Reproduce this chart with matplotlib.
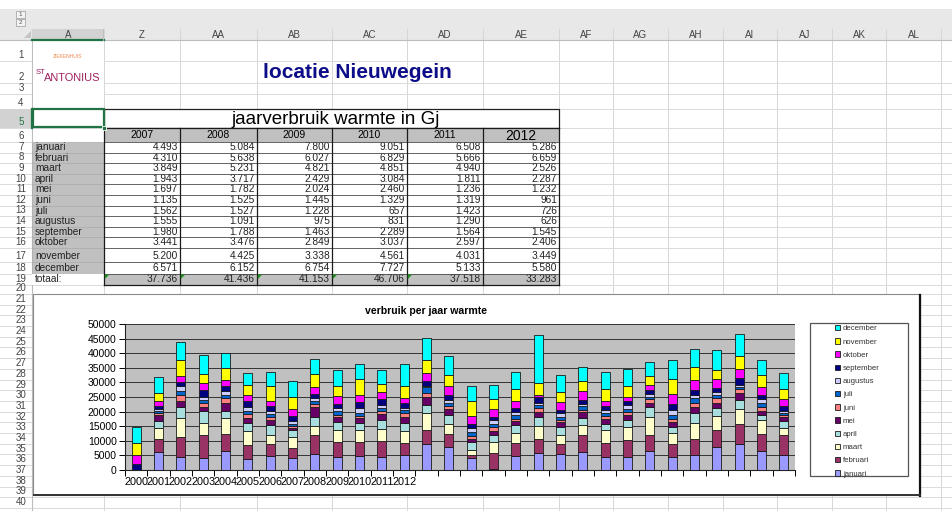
import numpy as np
import matplotlib.pyplot as plt
from matplotlib.patches import Rectangle, Polygon

plt.rcParams['font.family'] = ['Liberation Sans', 'DejaVu Sans']

months = ['januari', 'februari', 'maart', 'april', 'mei', 'juni', 'juli',
          'augustus', 'september', 'oktober', 'november', 'december']
table_years = ['2007', '2008', '2009', '2010', '2011', '2012']
gj_2007 = [4493, 4310, 3849, 1943, 1697, 1135, 1562, 1555, 1980, 3441, 5200, 6571]
gj_2008 = [5084, 5638, 5231, 3717, 1782, 1525, 1527, 1091, 1788, 3476, 4425, 6152]
gj_2009 = [7800, 6027, 4821, 2429, 2024, 1445, 1228, 975, 1463, 2849, 3338, 6754]
gj_2010 = [9051, 6829, 4851, 3084, 2460, 1329, 657, 831, 2289, 3037, 4561, 7727]
gj_2011 = [6508, 5666, 4940, 1811, 1236, 1319, 1423, 1290, 1564, 2597, 4031, 5133]
gj_2012 = [5286, 6659, 2526, 2287, 1232, 961, 726, 626, 1545, 2406, 3449, 5580]

# earlier bars of the chart (24 columns before 2007), per month
jan_early = [0, 6050, 4300, 4100, 6400, 3900, 4900, 4100, 5500, 4600, 4900, 4600,
             5300, 8900, 7800, 4100, 500, 4900, 5800, 5500, 6100, 4300, 4300, 6400]
feb_early = [0, 4450, 6900, 7900, 5900, 4800, 4000, 3400, 6600, 5000, 4700, 5400,
             3800, 4800, 4600, 900, 5300, 4300, 4800, 3400, 5800, 4800, 5900, 5700]
mrt_early = [0, 3900, 6600, 4000, 5500, 4800, 3200, 3800, 2900, 4100, 4100, 3900,
             4400, 5900, 3400, 2000, 3800, 3400, 4400, 3200, 3400, 4500, 4600, 5900]
apr_early = [0, 2500, 3700, 4100, 2300, 2600, 3400, 2300, 3300, 2600, 2500, 3200,
             2700, 2800, 3100, 2600, 2500, 2700, 3000, 2700, 2500, 2200, 2200, 3500]
mei_early = [0, 1800, 2300, 1400, 2700, 1700, 1600, 800, 3200, 1700, 1600, 2100,
             1800, 2700, 2100, 1100, 1400, 1400, 1900, 1600, 2100, 1700, 1900, 1600]
jun_early = [0, 800, 1800, 1300, 1900, 1400, 1200, 600, 1100, 900, 800, 900,
             1600, 1300, 800, 800, 1300, 900, 1300, 800, 800, 1000, 1000, 1100]
jul_early = [0, 600, 1600, 1300, 900, 900, 900, 800, 900, 1200, 800, 1100,
             900, 1900, 1100, 1500, 1000, 1300, 900, 1100, 1100, 1000, 1100, 900]
aug_early = [0, 800, 1500, 1000, 1300, 1400, 900, 900, 1200, 1100, 1800, 900,
             700, 600, 1200, 1400, 1400, 1000, 800, 1200, 800, 1200, 1100, 900]
sep_early = [2050, 900, 1400, 2400, 1800, 2000, 1700, 1700, 1300, 1400, 2000, 2100,
             1700, 1700, 1500, 1400, 1000, 1300, 2000, 1200, 1500, 1100, 1400, 1500]
okt_early = [3200, 1700, 2000, 2200, 2200, 2300, 1900, 2400, 2500, 2600, 2600, 2500,
             1800, 2600, 3100, 2800, 2600, 2300, 700, 2600, 3100, 1900, 1600, 1700]
nov_early = [3850, 3000, 5600, 3200, 4000, 3400, 5200, 4100, 4500, 3700, 5500, 2800,
             4100, 4600, 3900, 4900, 3500, 4400, 4100, 3400, 3200, 3900, 3800, 2900]
dec_early = [5500, 5300, 6000, 6400, 5100, 4000, 4700, 5600, 5100, 5200, 5000, 4600,
             7600, 7400, 6300, 5400, 4900, 5500, 16400, 5900, 4900, 6000, 5700, 4900]

x_labels = ['2000', '2001', '2002', '2003', '2004', '2005', '2006', '2007',
            '2008', '2009', '2010', '2011', '2012']

month_colors = ['#9999FF', '#993366', '#FFFFCC', '#A8DEDE', '#660066', '#FF8080',
                '#0066CC', '#CCCCFF', '#000080', '#FF00FF', '#FFFF00', '#00FFFF']

col_letters = ['A', 'Z', 'AA', 'AB', 'AC', 'AD', 'AE', 'AF', 'AG', 'AH', 'AI', 'AJ', 'AK', 'AL']
col_edges = [32, 104, 180, 257, 332, 407, 483, 559, 613, 668, 723, 777, 832, 886, 941, 995]
row_edges = ([40, 61, 83, 94, 109, 128, 142] + list(142 + 10.6 * np.arange(1, 11))
             + [262, 274, 285, 294] + list(294 + 10.7 * np.arange(1, 21)))

year_cols = [gj_2007, gj_2008, gj_2009, gj_2010, gj_2011, gj_2012]
early = [jan_early, feb_early, mrt_early, apr_early, mei_early, jun_early,
         jul_early, aug_early, sep_early, okt_early, nov_early, dec_early]


def fmt(v):
    return f'{v:,}'.replace(',', '.')


fig = plt.figure(figsize=(9.52, 5.11), dpi=100)
bg = fig.add_axes([0, 0, 1, 1])
bg.set_xlim(0, 952)
bg.set_ylim(511, 0)
bg.axis('off')

# --- spreadsheet frame ---
bg.add_patch(Rectangle((0, 9), 952, 31, fc='#E8E8E8', ec='none'))
bg.plot([0, 952], [40, 40], color='#BDBDBD', lw=0.8)
bg.plot([32, 32], [29, 511], color='#BDBDBD', lw=0.8)
for yb, t in [(11, '1'), (19, '2')]:
    bg.add_patch(Rectangle((16, yb), 9, 7, fc='#F4F4F4', ec='#9A9A9A', lw=0.5))
    bg.text(20.5, yb + 3.7, t, fontsize=4.5, ha='center', va='center', color='#555555')
bg.add_patch(Polygon([[31, 31], [31, 38], [24, 38]], closed=True, fc='#C4C4C4', ec='none'))

# gridlines
for x in col_edges:
    bg.plot([x, x], [29, 511], color='#D6D6D6', lw=0.7, zorder=1)
for y in row_edges:
    bg.plot([0, 952], [y, y], color='#DADADA', lw=0.7, zorder=1)

# column header
bg.add_patch(Rectangle((32, 29), 72, 11, fc='#D2D2D2', ec='none', zorder=2))
bg.plot([32, 104], [40, 40], color='#217346', lw=1.6, zorder=3)
bg.plot([103, 103], [29, 40], color='#BDBDBD', lw=0.6, zorder=3)
for i, letter in enumerate(col_letters):
    xc = (col_edges[i] + col_edges[i + 1]) / 2
    bg.text(xc, 35, letter, fontsize=7, ha='center', va='center', color='#444444', zorder=3)

# row header
bg.add_patch(Rectangle((0, row_edges[4]), 32, row_edges[5] - row_edges[4], fc='#D2D2D2', ec='none', zorder=2))
bg.plot([32, 32], [row_edges[4], row_edges[5]], color='#217346', lw=1.6, zorder=3)
for r in range(1, 41):
    bg.text(21, row_edges[r] - 0.8, str(r), fontsize=7, ha='center', va='bottom',
            color='#217346' if r == 5 else '#444444', zorder=3)

# logo cell
bg.add_patch(Rectangle((33, 40.5), 70.5, 68, fc='white', ec='none', zorder=2))
bg.text(68, 57, 'ZIEKENHUIS', fontsize=3.6, ha='center', va='center', color='#EE8A50', zorder=3)
bg.text(36, 72, 'ST', fontsize=5.5, ha='left', va='center', color='#A01E5E', zorder=3)
bg.text(44, 78, 'ANTONIUS', fontsize=7.9, ha='left', va='center', color='#A01E5E', zorder=3)

bg.text(357, 73, 'locatie Nieuwegein', fontsize=15, fontweight='bold', ha='center',
        va='center', color='#0D0D8A', zorder=3)

# --- table ---
x_left, x_right = col_edges[1], col_edges[7]
y5a, y5b = row_edges[4], row_edges[5]
bg.add_patch(Rectangle((x_left, y5a), x_right - x_left, y5b - y5a, fc='white', ec='#222222', lw=0.9, zorder=3))
bg.text(336, (y5a + y5b) / 2 + 1, 'jaarverbruik warmte in Gj', fontsize=13.5,
        ha='center', va='center', color='black', zorder=4)

y6a, y6b = row_edges[5], row_edges[6]
bg.add_patch(Rectangle((x_left, y6a), x_right - x_left, y6b - y6a, fc='#C0C0C0', ec='none', zorder=3))
for j, yr in enumerate(table_years):
    xc = (col_edges[j + 1] + col_edges[j + 2]) / 2
    bg.text(xc, (y6a + y6b) / 2 + 0.5, yr, fontsize=10 if yr == '2012' else 7.5,
            ha='center', va='center', color='black', zorder=4)

for i, m in enumerate(months):
    ya, yb = row_edges[6 + i], row_edges[7 + i]
    bg.add_patch(Rectangle((32, ya), 72, yb - ya, fc='#C0C0C0', ec='#A8A8A8', lw=0.4, zorder=3))
    bg.add_patch(Rectangle((x_left, ya), x_right - x_left, yb - ya, fc='white', ec='none', zorder=3))
    bg.text(35, yb - 0.6, m, fontsize=7.3, ha='left', va='bottom', color='#222222', zorder=4)
    for j, vals in enumerate(year_cols):
        bg.text(col_edges[j + 2] - 2, yb - 0.6, fmt(vals[i]), fontsize=7.3, ha='right',
                va='bottom', color='#222222', zorder=4)

ya, yb = row_edges[18], row_edges[19]
bg.add_patch(Rectangle((32, ya), 72, yb - ya, fc='white', ec='none', zorder=3))
bg.add_patch(Rectangle((x_left, ya), x_right - x_left, yb - ya, fc='#C0C0C0', ec='none', zorder=3))
bg.text(35, yb - 0.6, 'totaal:', fontsize=7.3, ha='left', va='bottom', color='#222222', zorder=4)
for j, vals in enumerate(year_cols):
    bg.text(col_edges[j + 2] - 2, yb - 0.6, fmt(sum(vals)), fontsize=7.3, ha='right',
            va='bottom', color='#222222', zorder=4)
    if j < 5:
        x0 = col_edges[j + 1] + 0.8
        bg.add_patch(Polygon([[x0, ya + 0.5], [x0 + 4.5, ya + 0.5], [x0, ya + 5]], closed=True,
                             fc='#1E8C1E', ec='none', zorder=5))

for y in row_edges[6:19]:
    bg.plot([x_left, x_right], [y, y], color='#4A4A4A', lw=0.6, zorder=4)
for x in col_edges[1:8]:
    bg.plot([x, x], [y6a, row_edges[19]], color='#1A1A1A', lw=0.9, zorder=4)
bg.plot([x_left, x_right], [y6a, y6a], color='#1A1A1A', lw=0.9, zorder=4)
bg.plot([x_left, x_right], [row_edges[19], row_edges[19]], color='#1A1A1A', lw=0.9, zorder=4)

# selected cell A5
bg.add_patch(Rectangle((32.5, y5a + 0.5), 71, y5b - y5a - 1, fill=False, ec='#217346', lw=1.6, zorder=5))
bg.add_patch(Rectangle((102, y5b - 2), 4, 4, fc='#217346', ec='white', lw=0.6, zorder=6))

# --- chart object ---
bg.add_patch(Rectangle((33, 294), 887, 201, fc='white', ec='#8A8A8A', lw=0.8, zorder=7))
bg.plot([920, 920], [295, 496], color='#111111', lw=1.6, zorder=8)
bg.plot([34, 920], [495.5, 495.5], color='#333333', lw=1.4, zorder=8)
bg.text(426, 311, 'verbruik per jaar warmte', fontsize=7.6, fontweight='bold',
        ha='center', va='center', color='black', zorder=8)
bg.add_patch(Rectangle((810, 323), 98, 153, fill=False, ec='#555555', lw=0.9, zorder=8))

ax = fig.add_axes([125 / 952, 1 - 470 / 511, 670 / 952, 146 / 511])
ax.set_facecolor('#C0C0C0')
n_bars = len(jan_early) + len(table_years)
x = np.arange(n_bars)
bottom = np.zeros(n_bars)
for i, m in enumerate(months):
    vals = np.array(early[i] + [yc[i] for yc in year_cols], dtype=float)
    ax.bar(x, vals, 0.4, bottom=bottom, color=month_colors[i], edgecolor='#1A1A1A',
           linewidth=0.6, label=m, zorder=3)
    bottom += vals

ax.set_xlim(-0.5, n_bars - 0.5)
ax.set_ylim(0, 50000)
ax.set_yticks(np.arange(0, 50001, 5000))
ax.set_yticklabels([str(v) for v in range(0, 50001, 5000)], fontsize=7.5)
ax.set_xticks(np.arange(len(x_labels)))
ax.set_xticklabels(x_labels, fontsize=7.8)
ax.set_xticks(np.arange(n_bars + 1) - 0.5, minor=True)
ax.tick_params(axis='x', which='major', length=0, pad=5)
ax.tick_params(axis='x', which='minor', length=4, width=0.7, direction='out')
ax.tick_params(axis='y', length=4, width=0.7, pad=2)
ax.yaxis.grid(True, color='#333333', lw=0.7)
ax.set_axisbelow(True)
for s in ['top', 'right']:
    ax.spines[s].set_visible(False)
for s in ['left', 'bottom']:
    ax.spines[s].set_color('#222222')
    ax.spines[s].set_linewidth(0.8)

h, l = ax.get_legend_handles_labels()
leg = ax.legend(h[::-1], l[::-1], loc='upper left', bbox_to_anchor=(835 / 952, 1 - 325 / 511),
                bbox_transform=fig.transFigure, frameon=False, fontsize=5.6,
                handlelength=0.7, handleheight=0.7, handletextpad=0.3,
                labelspacing=0.74, borderpad=0, borderaxespad=0)
for t in leg.get_texts():
    t.set_color('#333333')

fig.savefig('out.png', dpi=100)
